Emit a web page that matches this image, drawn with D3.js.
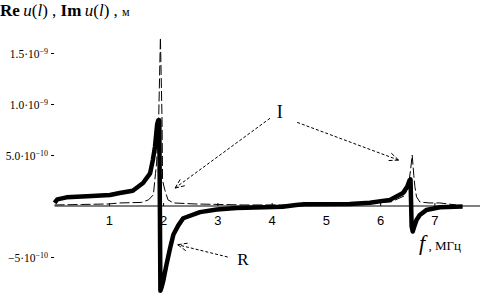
<!DOCTYPE html>
<html>
<head>
<meta charset="utf-8">
<script src="https://cdn.jsdelivr.net/npm/d3@7"></script>
<style>
  body { margin: 0; background: #fff; }
  svg { display: block; }
</style>
</head>
<body>
<div id="chart"></div>
<script>
// Re u(l) — thick curve, [f MHz, metres]
const reF = [0.0, 0.05, 0.22, 0.6, 1.02, 1.2, 1.44, 1.63, 1.76, 1.81, 1.85, 1.89, 1.91, 1.93, 1.95, 1.97, 2.0, 2.06, 2.13, 2.19, 2.28, 2.37, 2.68, 2.99, 3.35, 4.2, 4.45, 4.6, 5.44, 5.81, 6.18, 6.42, 6.5, 6.54, 6.56, 6.58, 6.60, 6.63, 6.67, 6.73, 6.85, 7.10, 7.52];
const reV = [0.03e-9, 0.065e-9, 0.085e-9, 0.095e-9, 0.108e-9, 0.127e-9, 0.15e-9, 0.225e-9, 0.32e-9, 0.45e-9, 0.58e-9, 0.8e-9, 0.84e-9, 0.84e-9, -0.83e-9, -0.8e-9, -0.74e-9, -0.58e-9, -0.41e-9, -0.28e-9, -0.19e-9, -0.12e-9, -0.06e-9, -0.035e-9, -0.02e-9, -0.008e-9, 0.01e-9, 0.018e-9, 0.02e-9, 0.032e-9, 0.06e-9, 0.127e-9, 0.19e-9, 0.25e-9, 0.26e-9, -0.2e-9, -0.25e-9, -0.2e-9, -0.137e-9, -0.088e-9, -0.04e-9, -0.013e-9, -0.005e-9];

// Im u(l) — thin dashed curve
const imF = [0.0, 0.5, 1.0, 1.2, 1.6, 1.73, 1.82, 1.86, 1.88, 1.92, 1.95, 1.98, 1.99, 2.03, 2.09, 2.19, 2.59, 3.5, 4.5, 5.5, 5.8, 6.2, 6.45, 6.52, 6.56, 6.59, 6.62, 6.64, 6.67, 6.73, 6.9, 7.1, 7.4];
const imV = [0.01e-9, 0.015e-9, 0.02e-9, 0.03e-9, 0.035e-9, 0.06e-9, 0.11e-9, 0.32e-9, 0.42e-9, 0.9e-9, 1.65e-9, 0.85e-9, 0.25e-9, 0.16e-9, 0.06e-9, 0.03e-9, 0.02e-9, 0.01e-9, 0.01e-9, 0.015e-9, 0.03e-9, 0.04e-9, 0.1e-9, 0.2e-9, 0.35e-9, 0.5e-9, 0.3e-9, 0.19e-9, 0.09e-9, 0.04e-9, 0.03e-9, 0.03e-9, 0.01e-9];

const xTicks = [1, 2, 3, 4, 5, 6, 7];
const yTicks = [1.5e-9, 1.0e-9, 5.0e-10, -5e-10];
const yTickMant = ["1.5", "1.0", "5.0", "\u22125"];
const yTickExp = ["\u22129", "\u22129", "\u221210", "\u221210"];

const width = 482, height = 297;

const svg = d3.select("#chart").append("svg")
    .attr("width", width)
    .attr("height", height);

const x = d3.scaleLinear().domain([0, 7.84]).range([54.6, 480]);
const y = d3.scaleLinear().domain([0, 1e-9]).range([206, 104]);

// x axis
const xAxis = d3.axisBottom(x)
    .tickValues(xTicks)
    .tickSize(-3)
    .tickFormat(d3.format("d"));

const gx = svg.append("g")
    .attr("transform", `translate(0,${y(0)})`)
    .call(xAxis);
gx.select(".domain").attr("stroke", "#000").attr("d", `M${x(0)},0H480`);
gx.selectAll("text")
    .attr("y", 10)
    .attr("font-family", "Liberation Sans, Arial, sans-serif")
    .attr("font-size", 13)
    .attr("fill", "#000");

// y axis, no domain line
const yAxis = d3.axisLeft(y)
    .tickValues(yTicks)
    .tickSize(3)
    .tickFormat("");
const gy = svg.append("g")
    .attr("transform", "translate(54,0)")
    .call(yAxis);
gy.select(".domain").remove();

gy.selectAll(".tick").each(function(d, i) {
    const t = d3.select(this).append("text")
        .attr("x", -6)
        .attr("dy", "0.35em")
        .attr("text-anchor", "end")
        .attr("font-family", "Liberation Serif, Times New Roman, serif")
        .attr("font-size", 11.5)
        .attr("fill", "#000");
    t.append("tspan").text(yTickMant[i] + "\u00b710");
    t.append("tspan").attr("dy", "-0.45em").attr("font-size", 8).text(yTickExp[i]);
});

// curves
const line = d3.line()
    .x(d => x(d[0]))
    .y(d => y(d[1]));

const imData = imF.map((f, i) => [f, imV[i]]);
const reData = reF.map((f, i) => [f, reV[i]]);

svg.append("path")
    .datum(imData)
    .attr("fill", "none")
    .attr("stroke", "#000")
    .attr("stroke-width", 1)
    .attr("stroke-dasharray", "10,3")
    .attr("d", line);

svg.append("path")
    .datum(reData)
    .attr("fill", "none")
    .attr("stroke", "#000")
    .attr("stroke-width", 4.5)
    .attr("stroke-linejoin", "round")
    .attr("d", line);

// annotation arrows (data coords)
const arrows = [
    { from: [3.97, 0.86e-9], to: [2.22, 0.176e-9] },
    { from: [4.47, 0.82e-9], to: [6.34, 0.45e-9] },
    { from: [3.19, -0.5e-9], to: [2.27, -0.38e-9] }
];

arrows.forEach(a => {
    const x1 = x(a.from[0]), y1 = y(a.from[1]);
    const x2 = x(a.to[0]), y2 = y(a.to[1]);
    svg.append("line")
        .attr("x1", x1).attr("y1", y1)
        .attr("x2", x2).attr("y2", y2)
        .attr("stroke", "#000")
        .attr("stroke-width", 1)
        .attr("stroke-dasharray", "3,2");
    const ang = Math.atan2(y1 - y2, x1 - x2);
    [-0.4, 0.4].forEach(off => {
        svg.append("line")
            .attr("x1", x2).attr("y1", y2)
            .attr("x2", x2 + 11 * Math.cos(ang + off))
            .attr("y2", y2 + 11 * Math.sin(ang + off))
            .attr("stroke", "#000")
            .attr("stroke-width", 1)
            .attr("stroke-dasharray", "4,2");
    });
});

svg.append("text")
    .attr("x", x(4.15)).attr("y", y(0.92e-9))
    .attr("dy", "0.35em")
    .attr("text-anchor", "middle")
    .attr("font-family", "Liberation Serif, Times New Roman, serif")
    .attr("font-size", 18)
    .text("I");

svg.append("text")
    .attr("x", x(3.47)).attr("y", y(-0.52e-9))
    .attr("dy", "0.35em")
    .attr("text-anchor", "middle")
    .attr("font-family", "Liberation Serif, Times New Roman, serif")
    .attr("font-size", 17)
    .text("R");

// axis titles
const yt = svg.append("text")
    .attr("x", 0).attr("y", 16)
    .attr("font-family", "Liberation Serif, Times New Roman, serif")
    .attr("font-size", 17)
    .attr("fill", "#000");
yt.append("tspan").attr("font-weight", "bold").text("Re\u2009");
yt.append("tspan").attr("font-style", "italic").text("u");
yt.append("tspan").text("(");
yt.append("tspan").attr("font-style", "italic").text("l");
yt.append("tspan").text(") ,  ");
yt.append("tspan").attr("font-weight", "bold").text("Im\u2009");
yt.append("tspan").attr("font-style", "italic").text("u");
yt.append("tspan").text("(");
yt.append("tspan").attr("font-style", "italic").text("l");
yt.append("tspan").text(") , ");
yt.append("tspan").attr("font-size", 12).text("м");

const xt = svg.append("text")
    .attr("x", 419).attr("y", 250)
    .attr("font-family", "Liberation Serif, Times New Roman, serif")
    .attr("fill", "#000");
xt.append("tspan").attr("font-style", "italic").attr("font-size", 22).text("f");
xt.append("tspan").attr("font-size", 13).text(" , МГц");
</script>
</body>
</html>
